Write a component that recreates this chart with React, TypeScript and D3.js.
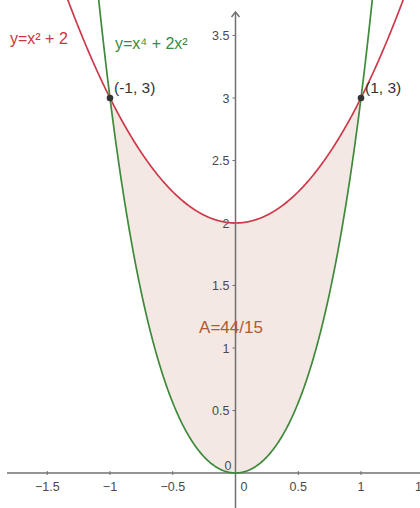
import React from "react";
import * as d3 from "d3";

const xTicks = [-1.5, -1, -0.5, 0.5, 1, 1.5];
const yTicks = [0.5, 1, 1.5, 2, 2.5, 3, 3.5];
const points = [
  { x: -1, y: 3, label: "(-1, 3)" },
  { x: 1, y: 3, label: "(1, 3)" },
];
const areaLabel = "A=44/15";
const redLabel = "y=x² + 2";
const greenLabel = "y=x⁴ + 2x²";

const W = 420;
const H = 508;
const f = (x: number) => x * x + 2;
const g = (x: number) => x ** 4 + 2 * x * x;

const fmt = (v: number) => (v < 0 ? "\u2212" + String(-v) : String(v));

export default function App() {
  const x = d3.scaleLinear().domain([0, 1]).range([235.5, 361]);
  const y = d3.scaleLinear().domain([0, 3]).range([473, 98]);
  const xs = d3.range(-1.9, 1.9001, 0.005);
  const redPath = d3.line<number>().x((d) => x(d)).y((d) => y(f(d)))(xs);
  const greenPath = d3.line<number>().x((d) => x(d)).y((d) => y(g(d)))(xs);
  const inner = d3.range(-1, 1.0001, 0.005);
  const areaPath = d3
    .area<number>()
    .x((d) => x(d))
    .y0((d) => y(g(d)))
    .y1((d) => y(f(d)))(inner);
  const axisColor = "#707070";
  const font = "'Liberation Sans', Arial, sans-serif";
  return (
    <svg
      width={W}
      height={H}
      style={{ position: "absolute", left: 0, top: 0, background: "#fff" }}
      fontFamily={font}
    >
      <defs>
        <clipPath id="clip">
          <rect x={0} y={0} width={W} height={H} />
        </clipPath>
      </defs>
      <path d={areaPath || ""} fill="#f4e8e5" stroke="none" />
      <line x1={7} x2={W} y1={y(0)} y2={y(0)} stroke={axisColor} strokeWidth={1.5} />
      <line x1={x(0)} x2={x(0)} y1={12} y2={H} stroke={axisColor} strokeWidth={1.5} />
      <path
        d={`M${x(0) - 4},${17} L${x(0)},${12} L${x(0) + 4},${17}`}
        fill="none"
        stroke={axisColor}
        strokeWidth={1.5}
      />
      {xTicks.map((t) => (
        <g key={"x" + t}>
          <line x1={x(t)} x2={x(t)} y1={y(0) - 2} y2={y(0) + 2} stroke={axisColor} strokeWidth={1} />
          <text x={x(t)} y={y(0) + 18} fontSize={12.5} fill="#4a4a4a" textAnchor="middle">
            {fmt(t)}
          </text>
        </g>
      ))}
      {yTicks.map((t) => (
        <g key={"y" + t}>
          <line x1={x(0) - 3} x2={x(0)} y1={y(t)} y2={y(t)} stroke={axisColor} strokeWidth={1} />
          <text x={x(0) - 6} y={y(t) + 4.5} fontSize={12.5} fill="#4a4a4a" textAnchor="end">
            {fmt(t)}
          </text>
        </g>
      ))}
      <text x={x(0) - 4} y={y(0) - 3} fontSize={12.5} fill="#4a4a4a" textAnchor="end">0</text>
      <text x={x(0) + 5} y={y(0) + 18} fontSize={12.5} fill="#4a4a4a" textAnchor="start">0</text>
      <g clipPath="url(#clip)">
        <path d={redPath || ""} fill="none" stroke="#cc3a4a" strokeWidth={1.7} />
        <path d={greenPath || ""} fill="none" stroke="#3e8a3a" strokeWidth={1.7} />
      </g>
      {points.map((p) => (
        <g key={p.label}>
          <circle cx={x(p.x)} cy={y(p.y)} r={3.3} fill="#333" />
          <text x={x(p.x) + 4} y={y(p.y) - 5} fontSize={15.5} fill="#333">
            {p.label}
          </text>
        </g>
      ))}
      <text x={10} y={44} fontSize={16} fill="#cc3344">{redLabel}</text>
      <text x={115} y={49} fontSize={16} fill="#3a8a3a">{greenLabel}</text>
      <text x={231} y={333} fontSize={17} fill="#b05a2e" textAnchor="middle">{areaLabel}</text>
    </svg>
  );
}
